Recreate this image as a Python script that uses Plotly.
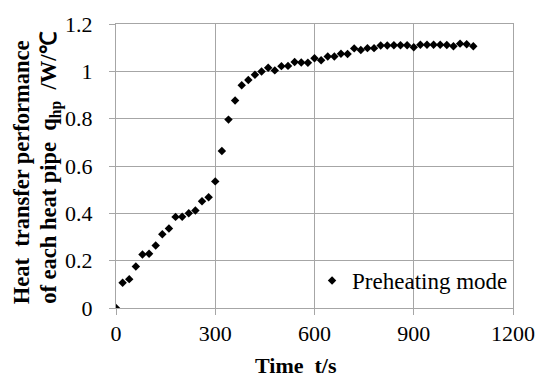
import plotly.graph_objects as go

time_s = [0, 20, 40, 60, 80, 100, 120, 140, 160, 180, 200, 220, 240, 260, 280, 300,
          320, 340, 360, 380, 400, 420, 440, 460, 480, 500, 520, 540, 560, 580, 600,
          620, 640, 660, 680, 700, 720, 740, 760, 780, 800, 820, 840, 860, 880, 900,
          920, 940, 960, 980, 1000, 1020, 1040, 1060, 1080]
q_hp = [0.0, 0.107, 0.122, 0.175, 0.226, 0.229, 0.264, 0.312, 0.336, 0.385, 0.386, 0.400,
        0.412, 0.451, 0.468, 0.535, 0.663, 0.796, 0.877, 0.941, 0.963, 0.986, 0.999,
        1.015, 1.004, 1.022, 1.023, 1.039, 1.037, 1.036, 1.055, 1.047, 1.063, 1.063,
        1.074, 1.073, 1.097, 1.090, 1.098, 1.098, 1.109, 1.109, 1.110, 1.110, 1.110,
        1.102, 1.112, 1.112, 1.112, 1.112, 1.111, 1.106, 1.117, 1.114, 1.106]

x_ticks = [0, 300, 600, 900, 1200]
y_ticks = [0, 0.2, 0.4, 0.6, 0.8, 1.0, 1.2]
y_tick_text = ["0", "0.2", "0.4", "0.6", "0.8", "1", "1.2"]
series_name = "Preheating mode"

FONT = "Liberation Serif"
GRID = "#a6a6a6"

fig = go.Figure()
fig.add_trace(go.Scatter(
    x=time_s, y=q_hp, mode="markers", name=series_name,
    marker=dict(symbol="diamond", size=6.5, color="black"),
))

W, H = 547, 381
ml, mr, mt, mb = 116, 26, 19, 73
pw = W - ml - mr
ph = H - mt - mb

axis_common = dict(showgrid=True, gridcolor=GRID, gridwidth=1,
                   showline=True, linecolor=GRID, linewidth=1, mirror=True,
                   ticks="outside", ticklen=6, tickcolor=GRID, zeroline=False,
                   tickfont=dict(family=FONT, size=22, color="black"))

fig.update_layout(
    width=W, height=H,
    margin=dict(l=ml, r=mr, t=mt, b=mb, pad=0),
    paper_bgcolor="white", plot_bgcolor="white",
    font=dict(family=FONT, size=22, color="black"),
    showlegend=True,
    legend=dict(x=(316 - ml) / pw, y=(308 - 280) / ph, xanchor="left", yanchor="middle",
                bgcolor="rgba(0,0,0,0)", font=dict(family=FONT, size=23, color="black"),
                itemwidth=30),
    xaxis=dict(range=[0, 1200], tickvals=x_ticks, ticktext=[str(v) for v in x_ticks],
               **axis_common),
    yaxis=dict(range=[0, 1.2], tickvals=y_ticks, ticktext=y_tick_text,
               ticklabelstandoff=12, **axis_common),
    annotations=[
        dict(text="<b>Time  t/s</b>", xref="paper", yref="paper",
             x=(300 - ml) / pw, y=-(367 - 308) / ph, xanchor="center", yanchor="middle",
             showarrow=False, font=dict(family=FONT, size=22, color="black")),
        dict(text="<b>Heat  transfer performance</b>", xref="paper", yref="paper",
             x=-(116 - 19) / pw, y=(308 - 170) / ph, xanchor="center", yanchor="middle",
             textangle=-90, showarrow=False, font=dict(family=FONT, size=22.5, color="black")),
        dict(text="<b>of each heat pipe  q<sub>hp</sub>  /W/℃</b>", xref="paper", yref="paper",
             x=-(116 - 49) / pw, y=(308 - 165) / ph, xanchor="center", yanchor="middle",
             textangle=-90, showarrow=False, font=dict(family=FONT, size=22.5, color="black")),
    ],
)

fig.write_html("out.html")
